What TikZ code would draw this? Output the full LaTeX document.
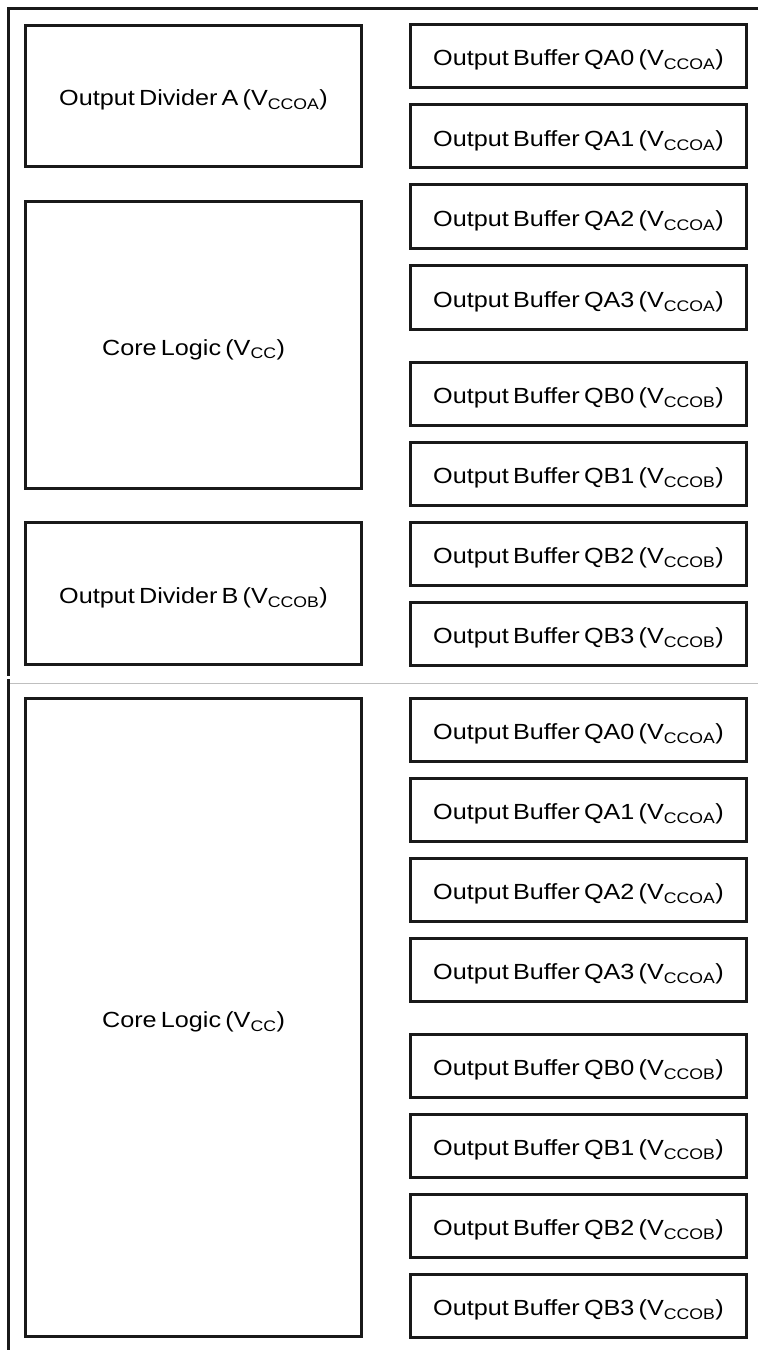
\documentclass[tikz,border=0pt]{standalone}
\usepackage{fontspec}
\setmainfont{Liberation Sans}[WordSpace=0.6, FakeStretch=1.15]
\begin{document}
\begin{tikzpicture}[x=1bp,y=-1bp,
  blk/.style={draw=black!90, line width=3bp, rectangle, inner sep=0pt, text height=20bp, text depth=0pt, font=\fontsize{22}{26}\selectfont},
  lbox/.style={blk, minimum width=336bp},
  buf/.style={blk, minimum width=336bp, minimum height=63bp},
  frame/.style={draw=black!90, line width=3bp},
  sep/.style={draw=black!25, line width=1bp}]
\useasboundingbox (0,0) rectangle (758,1350);
% frames
\coordinate (ftl) at (8.5,8.5);
\coordinate (ftr) at (758,8.5);
\coordinate (fbl) at (8.5,676);
\coordinate (gl) at (10,683);
\coordinate (gr) at (758,683);
\coordinate (ltop) at (8.5,679);
\coordinate (lbot) at (8.5,1350);
\draw[frame] (ftr) -- (ftl) -- (fbl);
\draw[sep] (gl) -- (gr);
\draw[frame] (ltop) -- (lbot);
% top section
\node[lbox, minimum height=141bp] (divA) at (193.5,96) {Output Divider A (V\textsubscript{CCOA})};
\node[lbox, minimum height=287bp] (core1) at (193.5,345) {Core Logic (V\textsubscript{CC})};
\node[lbox, minimum height=142bp] (divB) at (193.5,593.5) {Output Divider B (V\textsubscript{CCOB})};
\node[buf] (a0) at (578.5,56) {Output Buffer QA0 (V\textsubscript{CCOA})};
\node[buf] (a1) at (578.5,136.5) {Output Buffer QA1 (V\textsubscript{CCOA})};
\node[buf] (a2) at (578.5,216.5) {Output Buffer QA2 (V\textsubscript{CCOA})};
\node[buf] (a3) at (578.5,297.5) {Output Buffer QA3 (V\textsubscript{CCOA})};
\node[buf] (b0) at (578.5,393.5) {Output Buffer QB0 (V\textsubscript{CCOB})};
\node[buf] (b1) at (578.5,473.5) {Output Buffer QB1 (V\textsubscript{CCOB})};
\node[buf] (b2) at (578.5,553.5) {Output Buffer QB2 (V\textsubscript{CCOB})};
\node[buf] (b3) at (578.5,633.5) {Output Buffer QB3 (V\textsubscript{CCOB})};
% bottom section
\node[lbox, minimum height=638bp] (core2) at (193.5,1017.5) {Core Logic (V\textsubscript{CC})};
\node[buf] (c0) at (578.5,729.5) {Output Buffer QA0 (V\textsubscript{CCOA})};
\node[buf] (c1) at (578.5,809.5) {Output Buffer QA1 (V\textsubscript{CCOA})};
\node[buf] (c2) at (578.5,889.5) {Output Buffer QA2 (V\textsubscript{CCOA})};
\node[buf] (c3) at (578.5,969.5) {Output Buffer QA3 (V\textsubscript{CCOA})};
\node[buf] (d0) at (578.5,1065.5) {Output Buffer QB0 (V\textsubscript{CCOB})};
\node[buf] (d1) at (578.5,1145.5) {Output Buffer QB1 (V\textsubscript{CCOB})};
\node[buf] (d2) at (578.5,1225.5) {Output Buffer QB2 (V\textsubscript{CCOB})};
\node[buf] (d3) at (578.5,1305.5) {Output Buffer QB3 (V\textsubscript{CCOB})};
\end{tikzpicture}
\end{document}
